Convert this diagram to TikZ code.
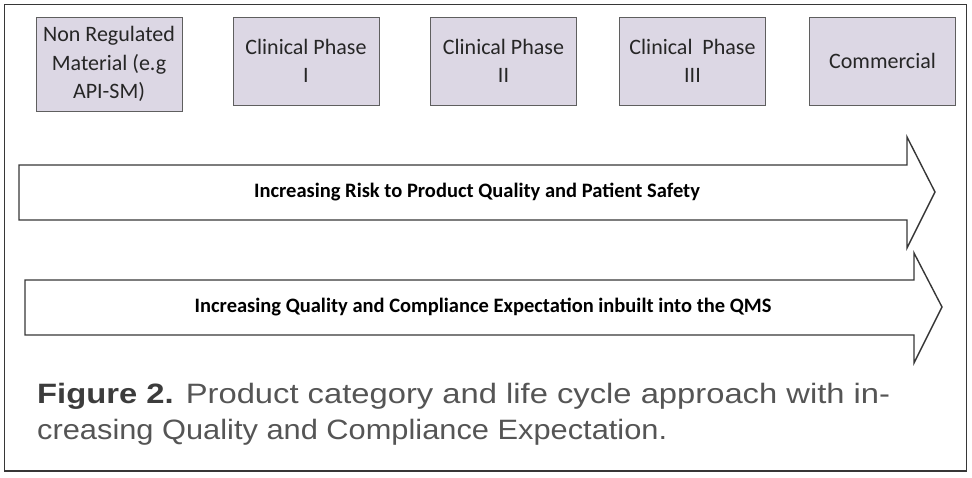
\documentclass[tikz,border=0pt]{standalone}
\usepackage{fontspec}
\usepackage{graphicx}
\setmainfont{Carlito}
\newfontfamily\capfont{Liberation Sans}
\definecolor{boxfill}{RGB}{220,215,228}
\definecolor{boxline}{RGB}{95,95,95}
\definecolor{frameline}{RGB}{55,55,55}
\definecolor{captxt}{RGB}{85,85,85}
\definecolor{capbold}{RGB}{60,60,60}
\newlength\capw
\newlength\capwb
\newcommand\capsize{\capfont\fontsize{28}{34}\selectfont}
\begin{document}
\settowidth\capw{\capsize\textbf{Figure 2.} Product category and life cycle approach with in-}%
\pgfmathsetmacro\capsx{853/\capw}%
\settowidth\capwb{\capsize creasing Quality and Compliance Expectation.}%
\pgfmathsetmacro\capsxb{630/\capwb}%
\begin{tikzpicture}[x=1pt,y=-1pt,
  stagebox/.style={draw=boxline,line width=0.9pt,fill=boxfill,minimum width=146pt,align=center,
    font=\fontsize{22}{28.5}\selectfont,text=black!85,inner sep=0pt},
  bigarrow/.style={draw=frameline,line width=1.4pt,fill=white,line join=miter},
  arrowtxt/.style={font=\fontsize{20.5}{24}\bfseries\selectfont,inner sep=0pt},
  captxtstyle/.style={anchor=base west,inner sep=0pt,text=captxt}]
\useasboundingbox (0,0) rectangle (972,478);
\draw[frameline,line width=1.4pt] (4.5,4.5) rectangle (966.5,471);
% stage boxes
\node[stagebox,minimum height=94pt] (nr) at (109,64) {Non Regulated\\Material (e.g\\API-SM)};
\node[stagebox,minimum height=88pt] (p1) at (306,61) {Clinical Phase\\I};
\node[stagebox,minimum height=88pt] (p2) at (503.5,61) {Clinical Phase\\II};
\node[stagebox,minimum height=88pt] (p3) at (692.5,61) {Clinical\ \ Phase\\III};
\node[stagebox,minimum height=88pt] (cm) at (882.5,61) {Commercial};
% arrows
\draw[bigarrow] (19,165) -- (907,165) -- (907,137) -- (935,192) -- (907,248) -- (907,220) -- (19,220) -- cycle;
\node[arrowtxt] (a1) at (477,192) {Increasing Risk to Product Quality and Patient Safety};
\draw[bigarrow] (25,280) -- (914,280) -- (914,253) -- (942,307) -- (914,363) -- (914,335) -- (25,335) -- cycle;
\node[arrowtxt] (a2) at (483,307) {Increasing Quality and Compliance Expectation inbuilt into the QMS};
% caption
\node[captxtstyle] (c1) at (37,403.5) {\scalebox{\capsx}[1]{\capsize\textcolor{capbold}{\textbf{Figure 2.}} Product category and life cycle approach with in-}};
\node[captxtstyle] (c2) at (37,439) {\scalebox{\capsxb}[1]{\capsize creasing Quality and Compliance Expectation.}};
\end{tikzpicture}
\end{document}
